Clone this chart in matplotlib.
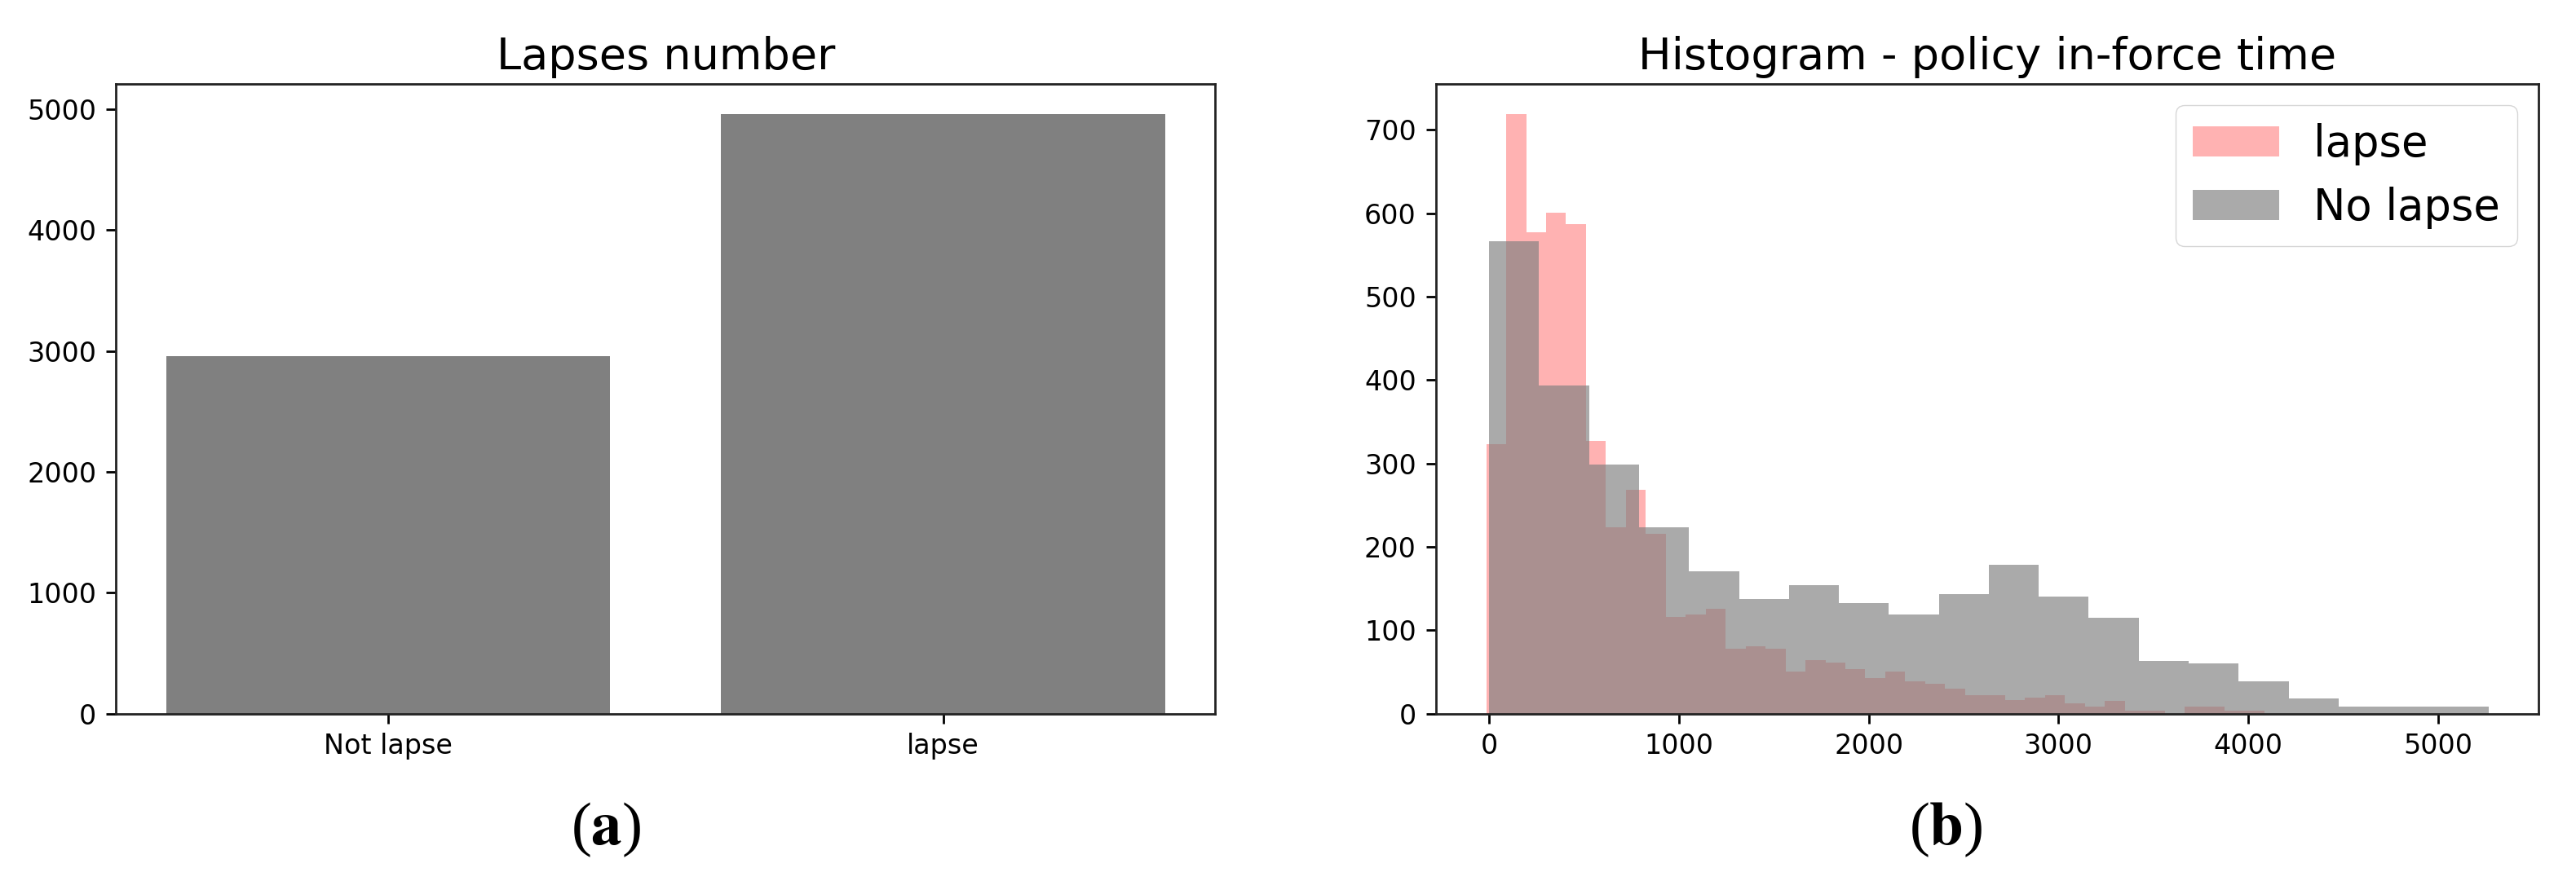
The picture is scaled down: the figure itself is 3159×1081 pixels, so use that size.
import numpy as np
import matplotlib
matplotlib.use('Agg')
import matplotlib.pyplot as plt

# (a) lapse counts
categories = ['Not lapse', 'lapse']
lapse_counts = [2955, 4960]

# (b) histogram counts
lapse_range = (-15, 4085)
lapse_hist = [323, 719, 577, 601, 587, 327, 223, 268, 216, 116,
              119, 126, 78, 81, 78, 50, 64, 61, 53, 43,
              50, 39, 36, 30, 22, 22, 16, 19, 22, 12,
              8, 15, 4, 4, 0, 8, 8, 4, 4]
nolapse_range = (0, 5266)
nolapse_hist = [566, 393, 299, 223, 171, 137, 154, 133, 119, 143,
                178, 140, 115, 63, 60, 39, 18, 8, 8, 8]

plt.rcParams['mathtext.fontset'] = 'stix'

fig = plt.figure(figsize=(31.59, 10.81), dpi=100)
ax1 = fig.add_axes([0.0451, 0.1900, 0.4266, 0.7147])
ax2 = fig.add_axes([0.5575, 0.1900, 0.4280, 0.7147])

ax1.bar(categories, lapse_counts, color='grey', width=0.8)
ax1.set_title('Lapses number', fontsize=39, pad=13)

lapse_edges = np.linspace(lapse_range[0], lapse_range[1], len(lapse_hist) + 1)
nolapse_edges = np.linspace(nolapse_range[0], nolapse_range[1], len(nolapse_hist) + 1)
ax2.hist(lapse_edges[:-1], bins=lapse_edges, weights=lapse_hist,
         color='red', alpha=0.3, label='lapse')
ax2.hist(nolapse_edges[:-1], bins=nolapse_edges, weights=nolapse_hist,
         color='grey', alpha=0.67, label='No lapse')
ax2.set_title('Histogram - policy in-force time', fontsize=39, pad=13)
ax2.legend(fontsize=38, loc='upper right')

for ax in (ax1, ax2):
    ax.tick_params(labelsize=24, length=8.5, width=2)
    ax.tick_params(axis='x', pad=8.5)
    ax.tick_params(axis='y', pad=9)
    for s in ax.spines.values():
        s.set_linewidth(2)
        s.set_color('#222222')

fig.text(0.2352, 0.058, r'($\mathbf{a}$)', ha='center', va='center',
         fontsize=54, family='Liberation Serif')
fig.text(0.7553, 0.058, r'($\mathbf{b}$)', ha='center', va='center',
         fontsize=54, family='Liberation Serif')

fig.savefig('out.png', dpi=100)
